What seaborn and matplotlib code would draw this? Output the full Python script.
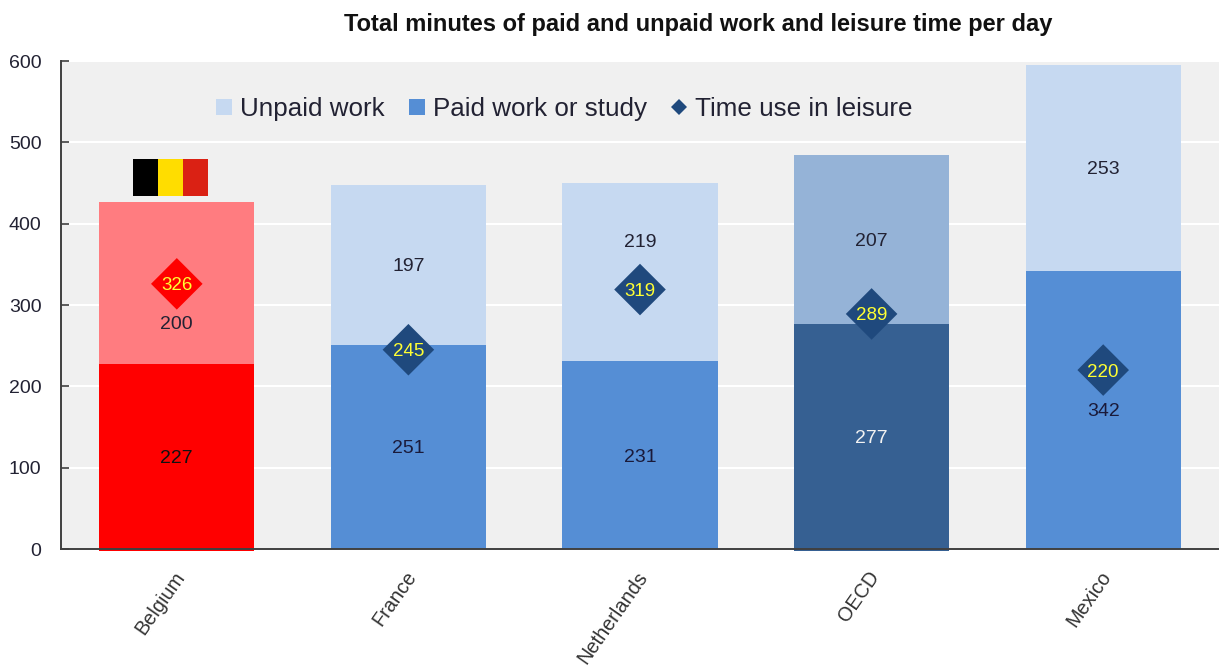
import pandas as pd
import matplotlib
matplotlib.use('Agg')
import matplotlib.pyplot as plt
import seaborn as sns
from matplotlib.lines import Line2D
from matplotlib.patches import Rectangle
from matplotlib.transforms import ScaledTranslation

# Chart values
countries = ['Belgium', 'France', 'Netherlands', 'OECD', 'Mexico']
paid_work = [227, 251, 231, 277, 342]
unpaid_work = [200, 197, 219, 207, 253]
leisure = [326, 245, 319, 289, 220]

# Styles
paid_colors = ['#FF0000', '#558ED5', '#558ED5', '#366092', '#558ED5']
unpaid_colors = ['#FF7C80', '#C6D9F1', '#C6D9F1', '#95B3D7', '#C6D9F1']
diamond_colors = ['#FF0000', '#1F497D', '#1F497D', '#1F497D', '#1F497D']
paid_text = ['#111111', '#1A1A3A', '#1A1A3A', '#F2F2F2', '#1A1A3A']
flag_colors = ['#000000', '#FFDD00', '#DA2114']
# labels moved clear of the diamonds
unpaid_label_shift = [-48, 0, 39, 0, 0]

TEXT = '#222233'

sns.set_theme(style='white', rc={'axes.facecolor': '#F0F0F0'})
plt.rcParams['font.family'] = ['Liberation Sans', 'DejaVu Sans']

df = pd.DataFrame({'country': countries, 'paid': paid_work,
                   'unpaid': unpaid_work, 'leisure': leisure})
df['total'] = df['paid'] + df['unpaid']

fig = plt.figure(figsize=(12.19, 6.66), dpi=100)
ax = fig.add_axes([61 / 1219, 117 / 666, 1158 / 1219, 488 / 666])

# Stacked bars: totals at the back, paid work in front
sns.barplot(data=df, x='country', y='total', hue='country', palette=unpaid_colors,
            width=0.67, legend=False, saturation=1, linewidth=0, ax=ax, zorder=2)
n_back = len(ax.containers)
sns.barplot(data=df, x='country', y='paid', hue='country', palette=paid_colors,
            width=0.67, legend=False, saturation=1, linewidth=0, ax=ax, zorder=2.5)

# Belgium and OECD bars hang a little below the axis
for cont in ax.containers[n_back:]:
    for bar in cont:
        if bar.get_facecolor()[:3] in (matplotlib.colors.to_rgb('#FF0000'),
                                       matplotlib.colors.to_rgb('#366092')):
            bar.set_clip_on(False)
            bar.set_y(-3)
            bar.set_height(bar.get_height() + 3)

# Diamonds for leisure
sns.scatterplot(data=df, x='country', y='leisure', hue='country', palette=diamond_colors,
                marker='D', s=690, linewidth=0, legend=False, ax=ax, zorder=3)

# Value labels
for i, c in enumerate(countries):
    ax.text(i, paid_work[i] / 2, str(paid_work[i]), ha='center', va='center_baseline',
            fontsize=14, color=paid_text[i], zorder=4)
    ax.text(i, paid_work[i] + unpaid_work[i] / 2 + unpaid_label_shift[i], str(unpaid_work[i]),
            ha='center', va='center_baseline', fontsize=14, color=TEXT, zorder=4)
    ax.text(i, leisure[i], str(leisure[i]), ha='center', va='center_baseline',
            fontsize=13.5, color='#FFFF33', zorder=5)

# Belgian flag above its bar
for j, col in enumerate(flag_colors):
    ax.add_patch(Rectangle((-0.19 + j * 0.108, 434), 0.108, 45.5, facecolor=col,
                           edgecolor='none', zorder=3))

ax.set_xlim(-0.5, 4.5)
ax.set_ylim(0, 600)
ax.set_yticks(range(0, 601, 100))
ax.set_xlabel('')
ax.set_ylabel('')
ax.grid(axis='y', color='white', linewidth=1.5, zorder=0)
ax.set_axisbelow(True)

for side in ['top', 'right']:
    ax.spines[side].set_visible(False)
for side in ['left', 'bottom']:
    ax.spines[side].set_color('#404040')
    ax.spines[side].set_linewidth(1.4)
    ax.spines[side].set_zorder(6)

ax.tick_params(axis='y', direction='in', length=5.5, width=1.2, color='#404040',
               labelsize=14, labelcolor=TEXT, pad=14, left=True)
ax.tick_params(axis='x', bottom=False, labelsize=14.3, labelcolor='#333333')
ax.set_xticks(range(len(countries)))
ax.set_xticklabels(countries, rotation=55, ha='right', rotation_mode='anchor')
shift = ScaledTranslation(-3 / 72, -4 / 72, fig.dpi_scale_trans)
for lab in ax.get_xticklabels():
    lab.set_transform(lab.get_transform() + shift)

# Legend
handles = [
    Line2D([], [], linestyle='none', marker='s', markersize=11.5, markerfacecolor='#C6D9F1',
           markeredgewidth=0, label='Unpaid work'),
    Line2D([], [], linestyle='none', marker='s', markersize=11.5, markerfacecolor='#558ED5',
           markeredgewidth=0, label='Paid work or study'),
    Line2D([], [], linestyle='none', marker='D', markersize=8, markerfacecolor='#1F497D',
           markeredgewidth=0, label='Time use in leisure'),
]
ax.legend(handles=handles, ncol=3, frameon=False, fontsize=18.7, loc='center',
          bbox_to_anchor=(563 / 1219, 1 - 109 / 666), bbox_transform=fig.transFigure,
          handlelength=0.8, handletextpad=0.2, columnspacing=0.85, labelcolor=TEXT)

fig.text(698 / 1219, 1 - 25 / 666, 'Total minutes of paid and unpaid work and leisure time per day',
         ha='center', va='center', fontsize=17, fontweight='bold', color='#111111')

fig.savefig('out.png', dpi=100)
